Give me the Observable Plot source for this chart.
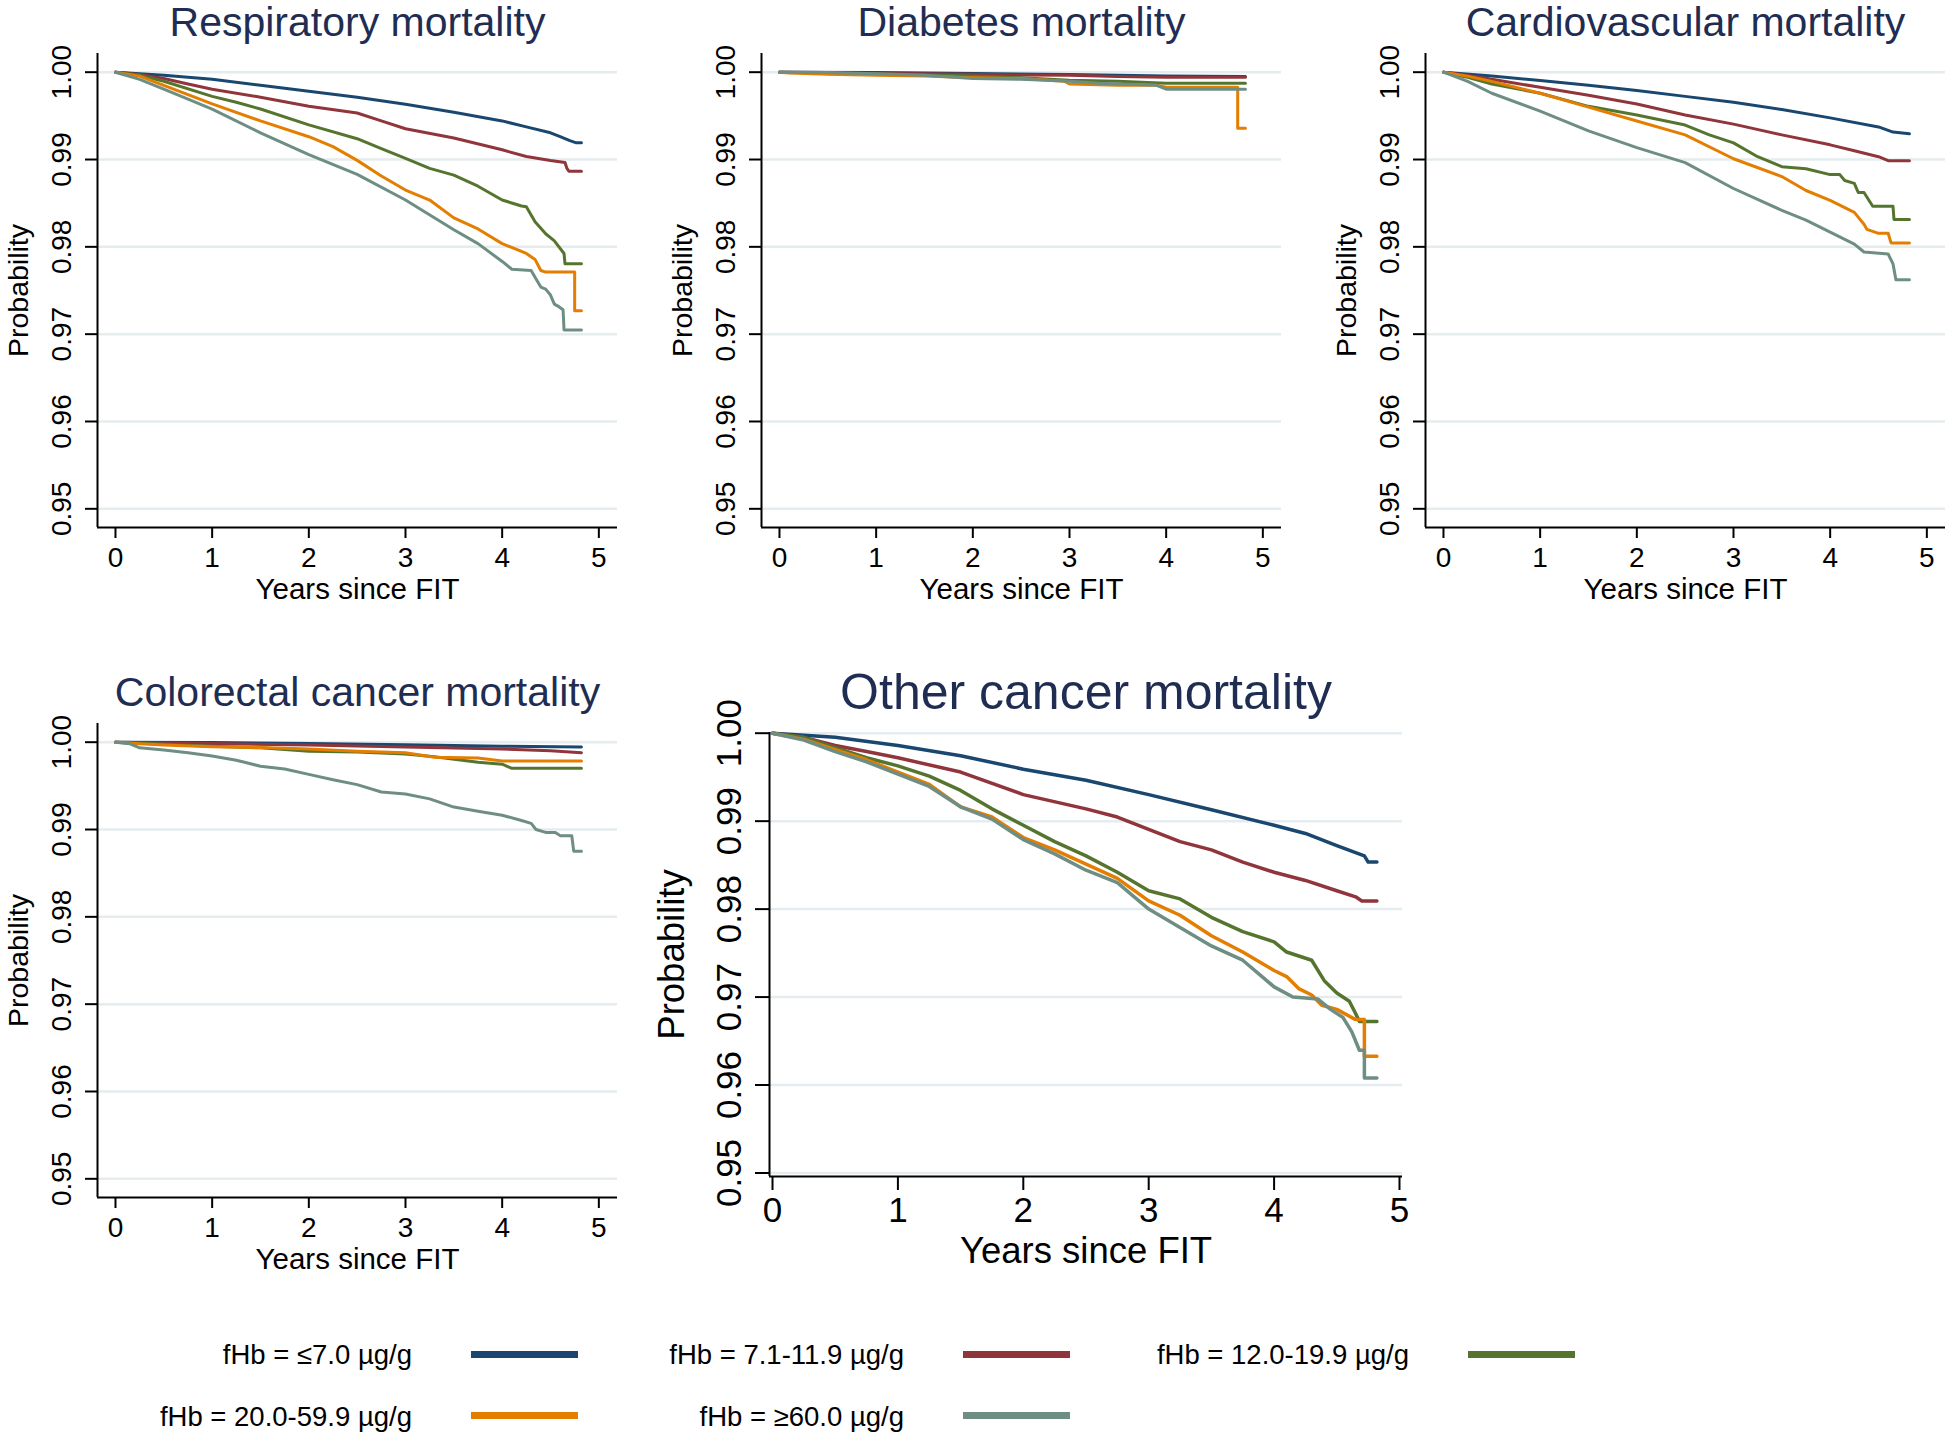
<!DOCTYPE html>
<html><head><meta charset="utf-8">
<script src="https://cdn.jsdelivr.net/npm/d3@7"></script>
<script src="https://cdn.jsdelivr.net/npm/@observablehq/plot@0.6"></script>
<style>
html,body{margin:0;padding:0;background:#fff;overflow:hidden;}
#root{position:relative;width:1945px;height:1434px;overflow:hidden;background:#fff;font-family:"Liberation Sans",Arial,Helvetica,sans-serif;}
.panel{position:absolute;}
.panel svg{display:block;max-width:none !important;}
.lg-text{position:absolute;text-align:right;font-size:27.5px;line-height:27.5px;color:#000;white-space:nowrap;width:400px;}
.lg-sw{position:absolute;height:7px;}
</style></head><body><div id="root"></div>
<script>
const FONT = '"Liberation Sans", Arial, Helvetica, sans-serif';
const groups = ["fHb = ≤7.0 µg/g", "fHb = 7.1-11.9 µg/g", "fHb = 12.0-19.9 µg/g", "fHb = 20.0-59.9 µg/g", "fHb = ≥60.0 µg/g"];
const colors = ["#1a476f", "#90353b", "#55752f", "#e37e00", "#6e8e84"];
const yTicks = [0.95, 0.96, 0.97, 0.98, 0.99, 1.00];
const xTicks = [0, 1, 2, 3, 4, 5];
const xLabel = "Years since FIT";
const yLabel = "Probability";
const titles = ["Respiratory mortality", "Diabetes mortality", "Cardiovascular mortality", "Colorectal cancer mortality", "Other cancer mortality"];

// ---- Respiratory mortality: [years, survival probability]
const respNavy = [[0,1],[0.5,0.99964],[1,0.99918],[1.5,0.9985],[2,0.99782],[2.5,0.99714],[3,0.99633],[3.5,0.99542],[4,0.99442],[4.25,0.99374],[4.5,0.99306],[4.6,0.99261],[4.7,0.99216],[4.76,0.99193],[4.82,0.99193]];
const respMaroon = [[0,1],[0.25,0.99973],[0.5,0.99927],[0.75,0.99864],[1,0.99805],[1.5,0.99714],[2,0.9961],[2.5,0.99533],[2.75,0.99442],[3,0.99352],[3.5,0.99247],[4,0.99111],[4.25,0.99034],[4.5,0.98989],[4.65,0.98966],[4.67,0.98898],[4.69,0.98867],[4.82,0.98867]];
const respGreen = [[0,1],[0.25,0.99964],[0.5,0.99896],[1,0.99723],[1.25,0.99655],[1.5,0.99578],[2,0.99397],[2.5,0.99238],[2.75,0.99125],[3,0.99012],[3.25,0.98898],[3.5,0.98821],[3.75,0.98694],[4,0.98536],[4.2,0.98468],[4.25,0.98459],[4.34,0.98286],[4.45,0.9815],[4.54,0.98069],[4.64,0.97924],[4.65,0.97806],[4.82,0.97806]];
const respOrange = [[0,1],[0.25,0.99955],[0.5,0.9985],[1,0.99637],[1.5,0.99442],[2,0.99261],[2.25,0.99148],[2.5,0.9899],[2.75,0.98812],[3,0.9865],[3.25,0.98536],[3.5,0.98332],[3.75,0.98205],[4,0.98037],[4.25,0.97924],[4.34,0.97856],[4.4,0.97729],[4.45,0.97711],[4.75,0.97711],[4.75,0.97267],[4.82,0.97267]];
const respTeal = [[0,1],[0.25,0.99918],[0.5,0.99805],[1,0.99578],[1.5,0.99306],[2,0.99057],[2.5,0.9883],[3,0.98536],[3.5,0.98196],[3.75,0.98037],[4,0.97833],[4.1,0.97743],[4.3,0.97729],[4.34,0.97652],[4.4,0.97539],[4.45,0.97516],[4.5,0.97448],[4.54,0.97344],[4.59,0.97312],[4.63,0.9728],[4.64,0.97049],[4.82,0.97049]];

// ---- Diabetes mortality
const diabNavy = [[0,1],[1,0.99995],[2,0.99986],[3,0.99973],[4,0.99955],[4.82,0.9995]];
const diabMaroon = [[0,1],[0.5,0.99995],[1,0.99986],[1.5,0.99982],[2,0.99977],[2.5,0.99968],[3,0.99964],[3.5,0.9995],[4,0.99941],[4.82,0.99941]];
const diabGreen = [[0,1],[0.5,0.99991],[1,0.99982],[2,0.99955],[2.5,0.99936],[3,0.99909],[3.5,0.99895],[4,0.99873],[4.82,0.99873]];
const diabOrange = [[0,1],[0.1,0.99991],[0.5,0.99977],[1,0.99964],[1.5,0.99955],[2,0.99936],[2.5,0.99927],[2.95,0.99895],[3,0.99864],[3.5,0.9985],[3.9,0.9985],[4,0.99827],[4.74,0.99827],[4.74,0.99359],[4.82,0.99359]];
const diabTeal = [[0,1],[0.5,0.99995],[1,0.99982],[1.5,0.99964],[2,0.99927],[2.5,0.99918],[3,0.99895],[3.3,0.99873],[3.9,0.9985],[4,0.99805],[4.82,0.99805]];

// ---- Cardiovascular mortality
const cardNavy = [[0,1],[0.5,0.99955],[1,0.99905],[1.5,0.9985],[2,0.99791],[2.5,0.99723],[3,0.99655],[3.5,0.99573],[4,0.99477],[4.5,0.99373],[4.65,0.99314],[4.82,0.99295]];
const cardMaroon = [[0,1],[0.25,0.99964],[0.5,0.99918],[1,0.99827],[1.5,0.99736],[2,0.99636],[2.5,0.99509],[3,0.99405],[3.5,0.99282],[4,0.99168],[4.25,0.991],[4.5,0.99032],[4.6,0.98986],[4.82,0.98986]];
const cardGreen = [[0,1],[0.25,0.99941],[0.5,0.99864],[1,0.99759],[1.5,0.99609],[2,0.99509],[2.5,0.99395],[2.75,0.99282],[3,0.99191],[3.25,0.99032],[3.5,0.98918],[3.75,0.98895],[4,0.98827],[4.1,0.98827],[4.15,0.98759],[4.25,0.98727],[4.29,0.98623],[4.35,0.98623],[4.44,0.98464],[4.65,0.98464],[4.66,0.98314],[4.82,0.98314]];
const cardOrange = [[0,1],[0.25,0.99955],[0.5,0.99895],[1,0.99759],[1.5,0.996],[2,0.99441],[2.5,0.99282],[3,0.99009],[3.5,0.98805],[3.75,0.98645],[4,0.98532],[4.25,0.98395],[4.35,0.98259],[4.38,0.982],[4.5,0.98155],[4.6,0.98155],[4.63,0.98045],[4.82,0.98045]];
const cardTeal = [[0,1],[0.25,0.99895],[0.5,0.99759],[1,0.99555],[1.5,0.99327],[2,0.99136],[2.5,0.98964],[3,0.98668],[3.5,0.98418],[3.75,0.98305],[4,0.98168],[4.25,0.98032],[4.35,0.97941],[4.6,0.97918],[4.65,0.97805],[4.68,0.97623],[4.82,0.97623]];

// ---- Colorectal cancer mortality
const crcNavy = [[0,1],[1,0.99995],[2,0.99986],[3,0.99972],[4,0.99953],[4.82,0.99944]];
const crcMaroon = [[0,1],[1,0.99986],[2,0.99967],[3,0.99944],[4,0.99921],[4.5,0.99902],[4.82,0.99879]];
const crcGreen = [[0,1],[0.5,0.99977],[1,0.99953],[1.5,0.99935],[2,0.99897],[2.5,0.99888],[3,0.99864],[3.3,0.99832],[3.75,0.99771],[4,0.99748],[4.1,0.99701],[4.82,0.99701]];
const crcOrange = [[0,1],[0.25,0.99981],[0.5,0.99967],[1,0.99949],[1.5,0.99939],[2,0.99921],[2.5,0.99897],[3,0.99879],[3.3,0.99827],[3.75,0.99818],[4,0.99785],[4.82,0.99785]];
const crcTeal = [[0,1],[0.15,0.99981],[0.25,0.99935],[0.5,0.99911],[0.75,0.99879],[1,0.99841],[1.25,0.99794],[1.5,0.99724],[1.75,0.99692],[2,0.99631],[2.25,0.9957],[2.5,0.99514],[2.75,0.9943],[3,0.99407],[3.25,0.99351],[3.5,0.99257],[3.75,0.9921],[4,0.99164],[4.2,0.99103],[4.3,0.9907],[4.35,0.99],[4.45,0.98967],[4.55,0.98967],[4.6,0.9893],[4.72,0.9893],[4.74,0.98752],[4.82,0.98752]];

// ---- Other cancer mortality
const ocNavy = [[0,1],[0.5,0.99953],[1,0.9986],[1.5,0.99744],[2,0.99591],[2.5,0.99465],[3,0.99302],[3.5,0.9913],[4,0.98953],[4.25,0.9886],[4.5,0.98721],[4.65,0.98642],[4.72,0.98605],[4.75,0.98535],[4.82,0.98535]];
const ocMaroon = [[0,1],[0.25,0.99953],[0.5,0.9986],[0.75,0.99791],[1,0.99721],[1.5,0.99558],[2,0.99302],[2.5,0.9914],[2.75,0.99047],[3,0.98907],[3.25,0.98767],[3.5,0.98674],[3.75,0.98535],[4,0.98419],[4.25,0.98326],[4.5,0.98209],[4.65,0.9814],[4.7,0.98093],[4.82,0.98093]];
const ocGreen = [[0,1],[0.25,0.99953],[0.5,0.99837],[0.75,0.99721],[1,0.99628],[1.25,0.99512],[1.5,0.99349],[1.75,0.9914],[2,0.98953],[2.25,0.98767],[2.5,0.98605],[2.75,0.98419],[3,0.98209],[3.25,0.98116],[3.5,0.97907],[3.75,0.97744],[4,0.97628],[4.1,0.97512],[4.3,0.97419],[4.4,0.97186],[4.5,0.97047],[4.6,0.96953],[4.65,0.96814],[4.68,0.96721],[4.82,0.96721]];
const ocOrange = [[0,1],[0.25,0.9993],[0.5,0.99814],[0.75,0.99698],[1,0.99558],[1.25,0.99419],[1.5,0.99163],[1.75,0.99047],[2,0.98814],[2.25,0.98674],[2.5,0.98512],[2.75,0.98349],[3,0.98093],[3.25,0.9793],[3.5,0.97698],[3.75,0.97512],[4,0.97302],[4.1,0.97233],[4.2,0.97093],[4.3,0.97023],[4.38,0.96907],[4.5,0.9686],[4.65,0.96744],[4.72,0.96744],[4.72,0.96326],[4.82,0.96326]];
const ocTeal = [[0,1],[0.25,0.99921],[0.5,0.99791],[0.75,0.99674],[1,0.99535],[1.25,0.99395],[1.5,0.99163],[1.75,0.99023],[2,0.98791],[2.25,0.98628],[2.5,0.98442],[2.75,0.98302],[3,0.98],[3.25,0.97791],[3.5,0.97581],[3.75,0.97419],[4,0.97116],[4.15,0.97],[4.35,0.96977],[4.45,0.9686],[4.55,0.96767],[4.62,0.96605],[4.68,0.96395],[4.72,0.96395],[4.72,0.96079],[4.82,0.96079]];

const GRID = "#e4ecef";
const TITLE = "#1f2d52";

const small = {width: 640, height: 620, ml: 97, mr: 23, mt: 53, mb: 93,
  xDomain: [-0.186, 5.193], yDomain: [0.94786, 1.00214],
  tySize: 12, tyPad: 15, txSize: 11, txPad: 9, tickFont: 28, labFont: 29.5, ylabFont: 28.5,
  titleFont: 41, titleDy: -17.5, xlabDy: 71.5, ylabDx: -70, lw: 3};

const panels = [
  {...small, left: 0, top: 0, title: titles[0], series: [respNavy, respMaroon, respGreen, respOrange, respTeal]},
  {...small, left: 664, top: 0, title: titles[1], series: [diabNavy, diabMaroon, diabGreen, diabOrange, diabTeal]},
  {...small, left: 1328, top: 0, width: 617, mr: 0, title: titles[2], series: [cardNavy, cardMaroon, cardGreen, cardOrange, cardTeal]},
  {...small, left: 0, top: 670, title: titles[3], series: [crcNavy, crcMaroon, crcGreen, crcOrange, crcTeal]},
  {left: 640, top: 650, width: 780, height: 640, ml: 129, mr: 18, mt: 82, mb: 114,
   xDomain: [-0.024, 5.024], yDomain: [0.9496, 1.00008],
   tySize: 14, tyPad: 15, txSize: 14, txPad: 7, tickFont: 35, labFont: 36.5, ylabFont: 36.5,
   titleFont: 50, titleDy: -24, xlabDy: 86.5, ylabDx: -85.5, lw: 3.5,
   title: titles[4], series: [ocNavy, ocMaroon, ocGreen, ocOrange, ocTeal]}
];

const root = document.getElementById("root");

for (const cfg of panels) {
  const rows = [];
  cfg.series.forEach((s, i) => s.forEach(([t, p]) => rows.push({t, p, g: groups[i]})));
  const chart = Plot.plot({
    width: cfg.width, height: cfg.height,
    marginLeft: cfg.ml, marginRight: cfg.mr, marginTop: cfg.mt, marginBottom: cfg.mb,
    style: {fontFamily: FONT, fontSize: cfg.tickFont + "px", background: "white", color: "black", overflow: "visible"},
    x: {domain: cfg.xDomain},
    y: {domain: cfg.yDomain},
    color: {domain: groups, range: colors},
    marks: [
      Plot.ruleY(yTicks, {stroke: GRID, strokeWidth: 2.5}),
      Plot.axisY(yTicks, {tickSize: cfg.tySize, tickPadding: cfg.tyPad, tickRotate: -90, strokeWidth: 2, label: null, tickFormat: d3.format(".2f"), fontSize: cfg.tickFont}),
      Plot.axisX(xTicks, {tickSize: cfg.txSize, tickPadding: cfg.txPad, strokeWidth: 2, label: null, tickFormat: d3.format("d"), fontSize: cfg.tickFont}),
      Plot.line(rows, {x: "t", y: "p", z: "g", stroke: "g", strokeWidth: cfg.lw, strokeLinejoin: "round"}),
      Plot.ruleX([cfg.xDomain[0]], {strokeWidth: 2}),
      Plot.ruleY([cfg.yDomain[0]], {strokeWidth: 2}),
      Plot.text([cfg.title], {frameAnchor: "top", dy: cfg.titleDy, lineAnchor: "bottom", textAnchor: "middle", fontSize: cfg.titleFont, fill: TITLE}),
      Plot.text([xLabel], {frameAnchor: "bottom", dy: cfg.xlabDy, lineAnchor: "bottom", textAnchor: "middle", fontSize: cfg.labFont}),
      Plot.text([yLabel], {frameAnchor: "left", dx: cfg.ylabDx, rotate: -90, lineAnchor: "bottom", textAnchor: "middle", fontSize: cfg.ylabFont})
    ]
  });
  const div = document.createElement("div");
  div.className = "panel";
  div.style.left = cfg.left + "px";
  div.style.top = cfg.top + "px";
  div.style.width = cfg.width + "px";
  div.appendChild(chart);
  root.appendChild(div);
}

// ---- Legend (HTML, below the panels)
const legendRows = [[0, 1, 2], [3, 4]];
const rowTextTop = [1341, 1402.5];
const rowSwatchTop = [1351, 1412];
const colTextRight = [412, 904, 1409];
const colSwatchLeft = [471, 963, 1468];
const swatchWidth = 107;
legendRows.forEach((row, r) => row.forEach((gi, c) => {
  const t = document.createElement("div");
  t.className = "lg-text";
  t.textContent = groups[gi];
  t.style.left = (colTextRight[c] - 400) + "px";
  t.style.top = rowTextTop[r] + "px";
  root.appendChild(t);
  const s = document.createElement("div");
  s.className = "lg-sw";
  s.style.left = colSwatchLeft[c] + "px";
  s.style.width = swatchWidth + "px";
  s.style.top = rowSwatchTop[r] + "px";
  s.style.background = colors[gi];
  root.appendChild(s);
}));
</script>
</body></html>
